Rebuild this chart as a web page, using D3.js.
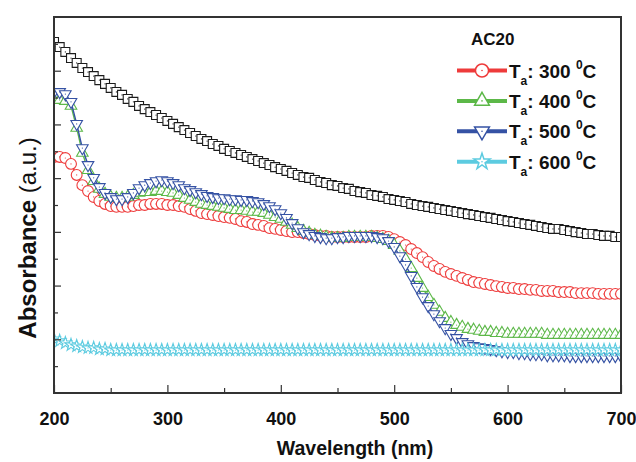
<!DOCTYPE html>
<html>
<head>
<meta charset="utf-8">
<script src="https://cdn.jsdelivr.net/npm/d3@7"></script>
<style>
  body { margin: 0; background: #fff; }
  svg { display: block; }
  text { font-family: "Liberation Sans", Arial, sans-serif; fill: #111; }
</style>
</head>
<body>
<svg id="chart" width="636" height="462"></svg>
<script>
// Wavelength grid (nm)
const wavelengths = [
  200,205,210,215,220,225,230,235,240,245,250,255,260,265,270,275,280,285,290,295,
  300,305,310,315,320,325,330,335,340,345,350,355,360,365,370,375,380,385,390,395,
  400,405,410,415,420,425,430,435,440,445,450,455,460,465,470,475,480,485,490,495,
  500,505,510,515,520,525,530,535,540,545,550,555,560,565,570,575,580,585,590,595,
  600,605,610,615,620,625,630,635,640,645,650,655,660,665,670,675,680,685,690,695,700
];

// Absorbance (a.u.) for each sample
const asDeposited = [
  1.307,1.288,1.270,1.247,1.229,1.210,1.195,1.180,1.165,1.151,
  1.136,1.121,1.110,1.095,1.084,1.069,1.057,1.046,1.035,1.024,
  1.013,1.002,0.990,0.979,0.968,0.957,0.946,0.938,0.927,0.920,
  0.909,0.901,0.894,0.886,0.879,0.871,0.864,0.856,0.849,0.841,
  0.834,0.827,0.819,0.812,0.804,0.801,0.793,0.786,0.782,0.774,
  0.771,0.763,0.760,0.752,0.748,0.745,0.737,0.734,0.730,0.722,
  0.719,0.715,0.711,0.704,0.700,0.696,0.693,0.689,0.685,0.681,
  0.678,0.674,0.670,0.666,0.663,0.659,0.655,0.652,0.648,0.644,
  0.640,0.637,0.633,0.629,0.626,0.622,0.618,0.614,0.611,0.611,
  0.607,0.603,0.599,0.596,0.592,0.592,0.588,0.585,0.585,0.581,0.581
];
const annealed300 = [
  0.879,0.879,0.875,0.853,0.812,0.774,0.752,0.730,0.715,0.704,
  0.696,0.693,0.693,0.693,0.696,0.700,0.700,0.704,0.704,0.704,
  0.700,0.700,0.696,0.693,0.685,0.678,0.670,0.666,0.663,0.659,
  0.655,0.652,0.648,0.640,0.637,0.629,0.626,0.622,0.614,0.611,
  0.607,0.603,0.599,0.599,0.596,0.592,0.588,0.585,0.585,0.581,
  0.581,0.581,0.581,0.581,0.581,0.581,0.585,0.585,0.585,0.581,
  0.573,0.562,0.551,0.536,0.521,0.506,0.488,0.473,0.462,0.451,
  0.443,0.436,0.428,0.421,0.413,0.410,0.406,0.402,0.398,0.395,
  0.391,0.391,0.387,0.387,0.384,0.384,0.380,0.380,0.380,0.376,
  0.376,0.376,0.372,0.372,0.372,0.372,0.369,0.369,0.369,0.369,0.369
];
const annealed400 = [
  1.091,1.091,1.087,1.069,0.987,0.894,0.830,0.789,0.760,0.741,
  0.730,0.726,0.726,0.730,0.737,0.745,0.748,0.748,0.752,0.752,
  0.748,0.745,0.737,0.726,0.719,0.711,0.704,0.700,0.696,0.693,
  0.689,0.685,0.681,0.681,0.678,0.674,0.674,0.670,0.663,0.655,
  0.648,0.637,0.626,0.614,0.603,0.596,0.588,0.585,0.581,0.577,
  0.577,0.577,0.581,0.581,0.581,0.581,0.581,0.577,0.573,0.566,
  0.551,0.529,0.499,0.465,0.428,0.391,0.357,0.328,0.302,0.279,
  0.264,0.253,0.246,0.238,0.235,0.231,0.227,0.227,0.223,0.223,
  0.220,0.220,0.220,0.220,0.220,0.220,0.220,0.216,0.216,0.216,
  0.216,0.216,0.216,0.216,0.216,0.216,0.216,0.216,0.216,0.216,0.216
];
const annealed500 = [
  1.121,1.121,1.113,1.084,1.002,0.912,0.849,0.801,0.767,0.745,
  0.730,0.722,0.722,0.730,0.745,0.763,0.774,0.782,0.789,0.793,
  0.789,0.782,0.774,0.763,0.756,0.748,0.741,0.734,0.730,0.726,
  0.726,0.722,0.722,0.719,0.719,0.715,0.711,0.704,0.696,0.685,
  0.670,0.652,0.633,0.614,0.599,0.592,0.585,0.581,0.577,0.577,
  0.581,0.581,0.585,0.585,0.585,0.585,0.585,0.581,0.577,0.566,
  0.544,0.510,0.477,0.436,0.395,0.357,0.324,0.294,0.268,0.242,
  0.220,0.205,0.190,0.182,0.175,0.171,0.168,0.164,0.160,0.156,
  0.153,0.153,0.149,0.149,0.145,0.145,0.145,0.141,0.141,0.141,
  0.141,0.138,0.138,0.138,0.138,0.138,0.138,0.138,0.138,0.138,0.138
];
const annealed600 = [
  0.201,0.194,0.186,0.179,0.175,0.171,0.168,0.168,0.164,0.164,
  0.160,0.160,0.160,0.160,0.160,0.160,0.160,0.160,0.160,0.160,
  0.160,0.160,0.160,0.160,0.160,0.160,0.160,0.160,0.160,0.160,
  0.160,0.160,0.160,0.160,0.160,0.160,0.160,0.160,0.160,0.160,
  0.160,0.160,0.160,0.160,0.160,0.160,0.160,0.160,0.160,0.160,
  0.160,0.160,0.160,0.160,0.160,0.160,0.160,0.160,0.160,0.160,
  0.160,0.160,0.160,0.160,0.160,0.160,0.160,0.160,0.160,0.160,
  0.160,0.160,0.160,0.160,0.160,0.160,0.160,0.160,0.160,0.160,
  0.160,0.160,0.160,0.160,0.160,0.160,0.160,0.160,0.160,0.160,
  0.160,0.160,0.160,0.160,0.160,0.160,0.160,0.160,0.160,0.160,0.160
];

const xTickValues = [200, 300, 400, 500, 600, 700];
const sampleName = "AC20";
const annealTemps = ["300", "400", "500", "600"];

// ---- layout ----
const svg = d3.select("#chart");
const plot = { left: 54, right: 621, top: 17, bottom: 393 };

const x = d3.scaleLinear().domain([200, 700]).range([plot.left, plot.right]);
const y = d3.scaleLinear().domain([0, 1.4]).range([plot.bottom, plot.top]);

const series = [
  { values: asDeposited, color: "#1c1c1c", symbol: d3.symbolSquare, size: 80, legendSize: 0, rotate: 0 },
  { values: annealed300, color: "#ee3b3b", symbol: d3.symbolCircle, size: 92, legendSize: 135, rotate: 0 },
  { values: annealed400, color: "#5cb848", symbol: d3.symbolTriangle, size: 58, legendSize: 95, rotate: 0 },
  { values: annealed500, color: "#3552a4", symbol: d3.symbolTriangle, size: 58, legendSize: 95, rotate: 180 },
  { values: annealed600, color: "#5ccbe0", symbol: d3.symbolStar, size: 48, legendSize: 80, rotate: 0 }
];

// ---- curves with open markers ----
const line = d3.line().x((d, i) => x(wavelengths[i])).y(d => y(d));
const clipId = "plot-clip";
svg.append("clipPath").attr("id", clipId)
  .append("rect").attr("x", plot.left).attr("y", plot.top)
  .attr("width", plot.right - plot.left).attr("height", plot.bottom - plot.top);

const dataLayer = svg.append("g").attr("clip-path", `url(#${clipId})`);

series.forEach(s => {
  const g = dataLayer.append("g");
  g.append("path")
    .datum(s.values)
    .attr("d", line)
    .attr("fill", "none")
    .attr("stroke", s.color)
    .attr("stroke-width", 1.4);
  const sym = d3.symbol().type(s.symbol).size(s.size);
  const m = g.selectAll("g.mk").data(s.values).join("g")
    .attr("class", "mk")
    .attr("transform", (d, i) => `translate(${x(wavelengths[i])},${y(d)}) rotate(${s.rotate})`);
  m.append("path")
    .attr("d", sym)
    .attr("fill", "#fff")
    .attr("stroke", s.color)
    .attr("stroke-width", 1.1);
  m.append("circle").attr("r", 0.6).attr("fill", s.color);
});

// ---- axes ----
const axisColor = "#333";
const xAxis = d3.axisBottom(x).tickValues(xTickValues).tickSize(-8).tickPadding(19)
  .tickFormat(d3.format("d"));
const gx = svg.append("g").attr("transform", `translate(0,${plot.bottom})`).call(xAxis);
gx.select(".domain").remove();
gx.selectAll(".tick line").attr("stroke", axisColor).attr("stroke-width", 1.2);
gx.selectAll(".tick text").attr("font-size", 18).attr("font-weight", "bold")
  .attr("fill", "#111");

const xMinor = d3.axisBottom(x).tickValues([250, 350, 450, 550, 650]).tickSize(-5).tickFormat("");
const gxm = svg.append("g").attr("transform", `translate(0,${plot.bottom})`).call(xMinor);
gxm.select(".domain").remove();
gxm.selectAll(".tick line").attr("stroke", axisColor).attr("stroke-width", 1.2);

const yMajor = d3.axisLeft(y).tickValues(d3.range(0.2, 1.39, 0.2)).tickSize(-7).tickFormat("");
const gy = svg.append("g").attr("transform", `translate(${plot.left},0)`).call(yMajor);
gy.select(".domain").remove();
gy.selectAll(".tick line").attr("stroke", axisColor).attr("stroke-width", 1.2);

const yMinor = d3.axisLeft(y).tickValues(d3.range(0.1, 1.4, 0.2)).tickSize(-4).tickFormat("");
const gym = svg.append("g").attr("transform", `translate(${plot.left},0)`).call(yMinor);
gym.select(".domain").remove();
gym.selectAll(".tick line").attr("stroke", axisColor).attr("stroke-width", 1.2);

// frame
svg.append("rect")
  .attr("x", plot.left).attr("y", plot.top)
  .attr("width", plot.right - plot.left).attr("height", plot.bottom - plot.top)
  .attr("fill", "none").attr("stroke", axisColor).attr("stroke-width", 2);

// axis titles
svg.append("text")
  .attr("x", 355).attr("y", 455)
  .attr("text-anchor", "middle")
  .attr("font-size", 19.5).attr("font-weight", "bold")
  .text("Wavelength (nm)");

const yt = svg.append("text")
  .attr("transform", "translate(36,238) rotate(-90)")
  .attr("text-anchor", "middle")
  .attr("font-size", 24);
yt.append("tspan").attr("font-weight", "bold").text("Absorbance");
yt.append("tspan").text(" (a.u.)");

// ---- legend ----
const legend = svg.append("g");
legend.append("text")
  .attr("x", 471).attr("y", 45)
  .attr("font-size", 17).attr("font-weight", "bold")
  .text(sampleName);

annealTemps.forEach((t, i) => {
  const s = series[i + 1];
  const cy = 70.5 + i * 30.4;
  legend.append("line")
    .attr("x1", 457).attr("x2", 507).attr("y1", cy).attr("y2", cy)
    .attr("stroke", s.color).attr("stroke-width", 4);
  const mk = legend.append("g").attr("transform", `translate(482,${cy}) rotate(${s.rotate})`);
  mk.append("path")
    .attr("d", d3.symbol().type(s.symbol).size(s.legendSize))
    .attr("fill", "#fff").attr("stroke", s.color).attr("stroke-width", 1.5);
  mk.append("circle").attr("r", 0.8).attr("fill", s.color);

  const label = legend.append("text")
    .attr("x", 509).attr("y", cy + 7)
    .attr("font-size", 19).attr("font-weight", "bold");
  label.append("tspan").text("T");
  label.append("tspan").attr("font-size", 12).attr("dy", 7).text("a");
  label.append("tspan").attr("dy", -7).text(`: ${t} `);
  label.append("tspan").attr("font-size", 12).attr("dy", -9).text("0");
  label.append("tspan").attr("dy", 9).text("C");
});
</script>
</body>
</html>
